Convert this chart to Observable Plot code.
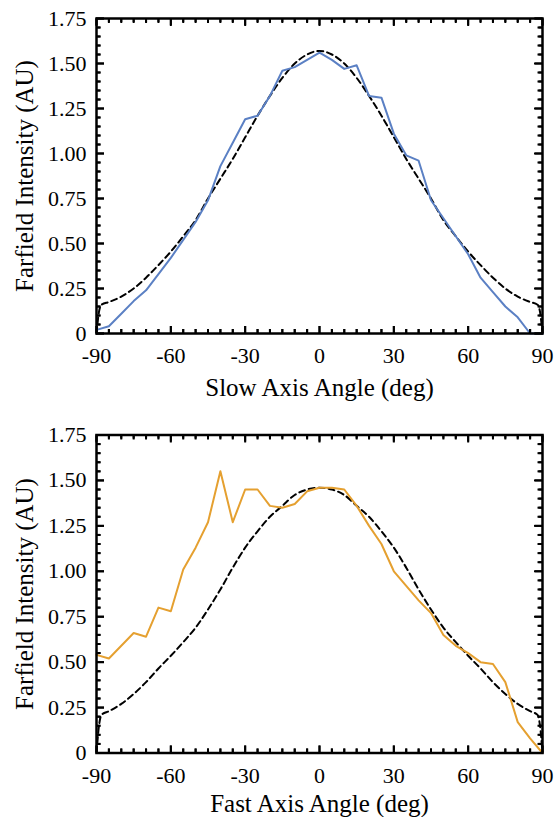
<!DOCTYPE html>
<html>
<head>
<meta charset="utf-8">
<script src="https://cdn.jsdelivr.net/npm/d3@7"></script>
<script src="https://cdn.jsdelivr.net/npm/@observablehq/plot@0.6"></script>
<style>
html, body { margin: 0; padding: 0; background: #fff; }
#chart { width: 557px; }
.panel { position: relative; width: 557px; }
.panel svg { display: block; }
.panel svg.overlay { position: absolute; left: 0; top: 0; }
</style>
</head>
<body>
<div id="chart"></div>
<script>
// Measured angles (deg)
const angles = [-90,-85,-80,-75,-70,-65,-60,-55,-50,-45,-40,-35,-30,-25,-20,-15,-10,-5,0,5,10,15,20,25,30,35,40,45,50,55,60,65,70,75,80,85,90];
// Slow axis measured intensity (blue)
const slowMeasured = [0.02,0.04,0.11,0.18,0.24,0.33,0.42,0.52,0.62,0.74,0.93,1.06,1.19,1.21,1.32,1.46,1.48,1.52,1.56,1.52,1.47,1.49,1.32,1.31,1.11,0.99,0.96,0.74,0.64,0.54,0.44,0.31,0.23,0.15,0.09,0.0,0.0];
// Fast axis measured intensity (orange)
const fastMeasured = [0.54,0.52,0.59,0.66,0.64,0.80,0.78,1.01,1.13,1.27,1.55,1.27,1.45,1.45,1.36,1.35,1.37,1.44,1.46,1.46,1.45,1.36,1.25,1.15,1.00,0.92,0.84,0.77,0.65,0.59,0.55,0.50,0.49,0.39,0.17,0.08,0.0];
// Fit curve angles (deg)
const fitAngles = [-90,-89,-88,-85,-80,-75,-70,-65,-60,-55,-50,-45,-40,-35,-30,-25,-20,-15,-10,-5,0,5,10,15,20,25,30,35,40,45,50,55,60,65,70,75,80,85,88,89,90];
// Slow axis fit (dashed)
const slowFit = [0,0.12,0.16,0.175,0.205,0.25,0.31,0.38,0.455,0.54,0.63,0.75,0.86,0.97,1.09,1.21,1.32,1.42,1.50,1.55,1.57,1.55,1.50,1.42,1.32,1.21,1.09,0.97,0.86,0.75,0.63,0.54,0.455,0.38,0.31,0.25,0.205,0.175,0.16,0.12,0];
// Fast axis fit (dashed)
const fastFit = [0,0.15,0.21,0.23,0.27,0.325,0.39,0.465,0.535,0.61,0.69,0.79,0.90,1.02,1.13,1.22,1.30,1.36,1.42,1.45,1.46,1.45,1.42,1.36,1.30,1.22,1.13,1.02,0.90,0.79,0.69,0.61,0.535,0.465,0.39,0.325,0.27,0.23,0.21,0.15,0];

const xMajorTicks = [-90,-60,-30,0,30,60,90];
const xTickLabels = ["-90","-60","-30","0","30","60","90"];
const xMinorTicks = [-85,-80,-75,-70,-65,-55,-50,-45,-40,-35,-25,-20,-15,-10,-5,5,10,15,20,25,35,40,45,50,55,65,70,75,80,85];
const yMajorTicks = [0,0.25,0.5,0.75,1,1.25,1.5,1.75];
const yTickLabels = ["0","0.25","0.50","0.75","1.00","1.25","1.50","1.75"];
const yMinorTicks = [0.05,0.1,0.15,0.2,0.3,0.35,0.4,0.45,0.55,0.6,0.65,0.7,0.8,0.85,0.9,0.95,1.05,1.1,1.15,1.2,1.3,1.35,1.4,1.45,1.55,1.6,1.65,1.7];

const FONT = "'Liberation Serif', 'Times New Roman', Times, serif";
const TICK_FS = 22;
const LABEL_FS = 25;
const W = 557, ML = 96, MR = 15;

function inwardAxisTicks() {
  const o = {fill: "none", label: null, stroke: "#000", strokeWidth: 2};
  return [
    Plot.axisX(xMinorTicks, {anchor: "bottom", tickSize: 4, dy: -4, ...o}),
    Plot.axisX(xMajorTicks, {anchor: "bottom", tickSize: 7, dy: -7, ...o}),
    Plot.axisX(xMinorTicks, {anchor: "top", tickSize: 4, dy: 4, ...o}),
    Plot.axisX(xMajorTicks, {anchor: "top", tickSize: 7, dy: 7, ...o}),
    Plot.axisY(yMinorTicks, {anchor: "left", tickSize: 4.5, dx: 4.5, ...o}),
    Plot.axisY(yMajorTicks, {anchor: "left", tickSize: 8, dx: 8, ...o}),
    Plot.axisY(yMinorTicks, {anchor: "right", tickSize: 4.5, dx: -4.5, ...o}),
    Plot.axisY(yMajorTicks, {anchor: "right", tickSize: 8, dx: -8, ...o})
  ];
}

function panel({measured, fit, color, xLabel, height, marginTop, marginBottom, xLabelOffset}) {
  const meas = angles.map((a, i) => ({a, v: measured[i]}));
  const fitData = fitAngles.map((a, i) => ({a, v: fit[i]}));
  const fmtX = d => xTickLabels[xMajorTicks.indexOf(d)];
  const fmtY = d => yTickLabels[yMajorTicks.findIndex(t => Math.abs(t - d) < 1e-9)];
  const fw = W - ML - MR;
  const fh = height - marginTop - marginBottom;
  const dims = {width: W, height, marginTop, marginBottom, marginLeft: ML, marginRight: MR};
  const scales = {x: {domain: [-90, 90], axis: null}, y: {domain: [0, 1.75], axis: null}};
  const tk = {stroke: "#000", strokeWidth: 2};

  const base = Plot.plot({
    ...dims, ...scales,
    style: {fontFamily: FONT, color: "#000", background: "#fff", overflow: "visible"},
    marks: [
      Plot.line(fitData, {x: "a", y: "v", stroke: "#000", strokeWidth: 2, strokeDasharray: "6,4", curve: "monotone-x"}),
      Plot.line(meas, {x: "a", y: "v", stroke: color, strokeWidth: 2}),
      ...inwardAxisTicks(),
      Plot.axisX(xMajorTicks, {anchor: "bottom", tickSize: 0, tickPadding: 14, tickFormat: fmtX, label: null, fontSize: TICK_FS, fill: "#000"}),
      Plot.axisY(yMajorTicks, {anchor: "left", tickSize: 0, tickPadding: 10, tickFormat: fmtY, label: null, fontSize: TICK_FS, fill: "#000"}),
      Plot.axisX([], {anchor: "bottom", tickSize: 0, label: xLabel, labelAnchor: "center", labelOffset: xLabelOffset, labelArrow: "none", fontSize: LABEL_FS, fill: "#000"}),
      Plot.axisY([], {anchor: "left", tickSize: 0, label: "Farfield Intensity (AU)", labelAnchor: "center", labelOffset: 81, labelArrow: "none", fontSize: LABEL_FS, fill: "#000"})
    ]
  });

  // frame and inward ticks on all four sides
  const overlay = Plot.plot({
    ...dims, ...scales,
    style: {background: "transparent", overflow: "visible"},
    marks: [
      Plot.tickX(xMinorTicks, {x: d => d, insetTop: fh - 4, ...tk}),
      Plot.tickX(xMajorTicks, {x: d => d, insetTop: fh - 7, ...tk}),
      Plot.tickX(xMinorTicks, {x: d => d, insetBottom: fh - 4, ...tk}),
      Plot.tickX(xMajorTicks, {x: d => d, insetBottom: fh - 7, ...tk}),
      Plot.tickY(yMinorTicks, {y: d => d, insetRight: fw - 4.5, ...tk}),
      Plot.tickY(yMajorTicks, {y: d => d, insetRight: fw - 8, ...tk}),
      Plot.tickY(yMinorTicks, {y: d => d, insetLeft: fw - 4.5, ...tk}),
      Plot.tickY(yMajorTicks, {y: d => d, insetLeft: fw - 8, ...tk}),
      Plot.frame({stroke: "#000", strokeWidth: 2.5})
    ]
  });
  overlay.classList.add("overlay");

  const wrap = document.createElement("div");
  wrap.className = "panel";
  wrap.append(base, overlay);
  return wrap;
}

const chart = document.getElementById("chart");
chart.append(panel({
  measured: slowMeasured, fit: slowFit, color: "#5b80c4",
  xLabel: "Slow Axis Angle (deg)",
  height: 410, marginTop: 18, marginBottom: 77, xLabelOffset: 62
}));
chart.append(panel({
  measured: fastMeasured, fit: fastFit, color: "#e5a030",
  xLabel: "Fast Axis Angle (deg)",
  height: 407, marginTop: 24.5, marginBottom: 64.5, xLabelOffset: 59
}));
</script>
</body>
</html>
